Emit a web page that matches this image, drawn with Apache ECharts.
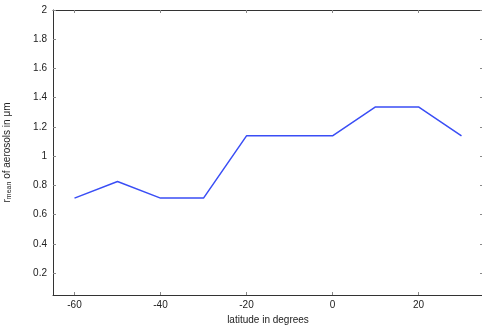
<!DOCTYPE html>
<html>
<head>
<meta charset="utf-8">
<script src="https://cdn.jsdelivr.net/npm/echarts@6/dist/echarts.min.js"></script>
<style>html,body{margin:0;padding:0;background:#fff;}#c{width:482px;height:331px;}</style>
</head>
<body>
<div id="c"></div>
<script>
const latitudes = [-60, -50, -40, -30, -20, -10, 0, 10, 20, 30];
const rMean = [0.713, 0.827, 0.713, 0.713, 1.139, 1.139, 1.139, 1.337, 1.337, 1.139];
const xTicks = [-60, -40, -20, 0, 20];
const yTicks = [0.2, 0.4, 0.6, 0.8, 1, 1.2, 1.4, 1.6, 1.8, 2];

const font = 'Liberation Sans';
const axisLine = {show: true, onZero: false, lineStyle: {color: '#333', width: 1}};
const tick = (vals) => ({show: true, inside: true, length: 3, customValues: vals, lineStyle: {color: '#888', width: 1}});

const chart = echarts.init(document.getElementById('c'), null, {renderer: 'canvas'});
chart.setOption({
  animation: false,
  backgroundColor: '#fff',
  grid: {left: 53, right: -1, top: 10, bottom: 36, containLabel: false, outerBoundsMode: 'none'},
  xAxis: [{
    type: 'value', min: -65, max: 35, position: 'bottom',
    axisLine, axisTick: tick(xTicks), splitLine: {show: false},
    axisLabel: {customValues: xTicks, color: '#222', fontFamily: font, fontSize: 10, margin: 5},
    name: 'latitude in degrees', nameLocation: 'middle', nameGap: 19,
    nameTextStyle: {color: '#222', fontFamily: font, fontSize: 10}
  }, {
    type: 'value', min: -65, max: 35, position: 'top',
    axisLine, axisTick: tick(xTicks), axisLabel: {show: false}, splitLine: {show: false}
  }],
  yAxis: [{
    type: 'value', min: 0.05, max: 2, position: 'left',
    axisLine, axisTick: tick(yTicks), splitLine: {show: false},
    axisLabel: {customValues: yTicks, color: '#222', fontFamily: font, fontSize: 10, margin: 6},
    name: '{r|r}{sub|mean}{n| of aerosols in μm}', nameLocation: 'middle', nameGap: 40, nameRotate: 90,
    nameTextStyle: {
      color: '#222', fontFamily: font, fontSize: 10,
      rich: {
        r: {fontFamily: font, fontSize: 10, color: '#222'},
        sub: {fontFamily: font, fontSize: 7, color: '#222', verticalAlign: 'bottom', padding: [4, 0, 0, 0]},
        n: {fontFamily: font, fontSize: 10, color: '#222'}
      }
    }
  }, {
    type: 'value', min: 0.05, max: 2, position: 'right',
    axisLine, axisTick: tick(yTicks), axisLabel: {show: false}, splitLine: {show: false}
  }],
  series: [{
    type: 'line',
    data: latitudes.map((x, i) => [x, rMean[i]]),
    showSymbol: false,
    lineStyle: {color: '#3a4ef5', width: 1.5},
    itemStyle: {color: '#3a4ef5'}
  }]
});
</script>
</body>
</html>
